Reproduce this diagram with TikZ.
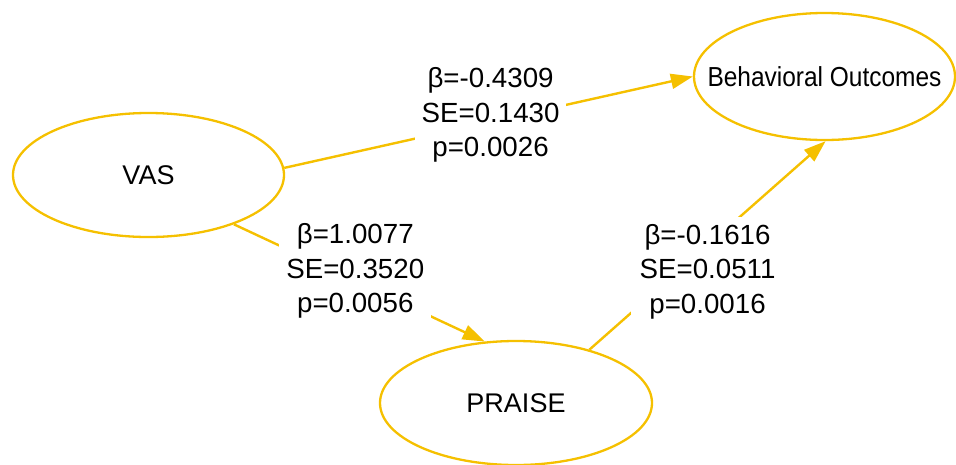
\documentclass[tikz,border=0pt]{standalone}
\usepackage{graphicx}
\usepackage{fontspec}
\setmainfont{Liberation Sans}
\usetikzlibrary{shapes.geometric,arrows.meta}
\definecolor{edgegold}{RGB}{245,192,0}
\begin{document}
\begin{tikzpicture}[x=1pt,y=-1pt,
  var/.style={ellipse, draw=edgegold, line width=2.3pt, inner sep=0pt,
              font=\fontsize{27}{31}\selectfont},
  link/.style={draw=edgegold, line width=2.4pt,
               -{Triangle[length=22pt,width=15pt]}},
  est/.style={fill=white, inner sep=7pt, align=center,
              font=\fontsize{27.7}{34.5}\selectfont}]
\useasboundingbox (0,0) rectangle (956,464);

% variables (labels in zero-width boxes so the ellipse size is set by the minimum size)
\node[var, minimum width=271pt, minimum height=124pt] (vas) at (148.5,175)
  {\makebox[0pt]{VAS}};
\node[var, minimum width=261pt, minimum height=127pt] (bo) at (824.5,76.5)
  {\makebox[0pt]{\scalebox{0.89}[1]{\fontsize{27.5}{31}\selectfont Behavioral Outcomes}}};
\node[var, minimum width=272pt, minimum height=124pt] (praise) at (516,403)
  {\makebox[0pt]{PRAISE}};

% paths with estimates
\draw[link] (vas.3) -- node[est, xshift=2pt, yshift=7pt]
  {β=-0.4309\\SE=0.1430\\p=0.0026} (bo.west);
\draw[link] (vas.-30) -- node[est, xshift=-4pt, yshift=12pt]
  {β=1.0077\\SE=0.3520\\p=0.0056} (praise.117);
\draw[link] (praise.36) -- node[est, yshift=-26pt, inner xsep=9pt]
  {β=-0.1616\\SE=0.0511\\p=0.0016} (bo.-89);
\end{tikzpicture}
\end{document}
